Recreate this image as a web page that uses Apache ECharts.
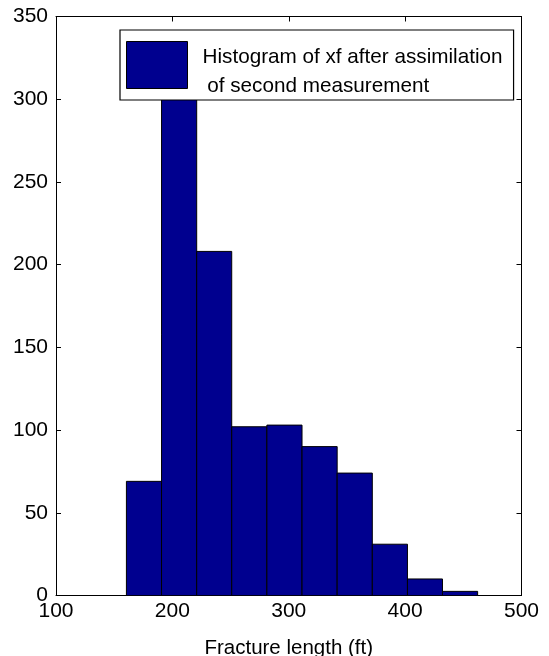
<!DOCTYPE html>
<html>
<head>
<meta charset="utf-8">
<script src="https://cdn.jsdelivr.net/npm/echarts@6/dist/echarts.min.js"></script>
<style>
html,body{margin:0;padding:0;background:#fff;}
#chart{width:549px;height:656px;}
</style>
</head>
<body>
<div id="chart"></div>
<script>
// Histogram bin edges (ft) and counts
const binStarts = [160.5, 190.7, 220.9, 251.0, 281.2, 311.4, 341.6, 371.8, 402.0, 432.1];
const binEnds   = [190.7, 220.9, 251.0, 281.2, 311.4, 341.6, 371.8, 402.0, 432.1, 462.3];
const counts    = [69, 315, 208, 102, 103, 90, 74, 31, 10, 2.5];
const xTicks = [100, 200, 300, 400, 500];
const yTicks = [0, 50, 100, 150, 200, 250, 300, 350];
const seriesName = 'Histogram of xf after assimilation\n of second measurement';
const xLabel = 'Fracture length (ft)';

const barColor = '#00008f';
const font = '"Liberation Sans", Arial, sans-serif';

const data = counts.map((c, i) => [binStarts[i], binEnds[i], c]);

const chart = echarts.init(document.getElementById('chart'), null, {renderer: 'canvas'});

const axisCommon = {
  axisLine: {show: true, onZero: false, lineStyle: {color: '#000', width: 1}},
  axisTick: {show: true, inside: true, length: 5, lineStyle: {color: '#000', width: 1}},
  splitLine: {show: false}
};

chart.setOption({
  animation: false,
  backgroundColor: '#fff',
  grid: {left: 56, right: 27.5, top: 16.5, bottom: 60.5, containLabel: false, outerBoundsMode: 'none'},
  xAxis: [
    Object.assign({
      type: 'value', position: 'bottom',
      min: xTicks[0], max: xTicks[xTicks.length - 1], interval: 100,
      name: xLabel, nameLocation: 'middle', nameGap: 42,
      nameTextStyle: {fontFamily: font, fontSize: 20.5, color: '#000'},
      axisLabel: {fontFamily: font, fontSize: 21, color: '#000', margin: 5}
    }, axisCommon),
    Object.assign({
      type: 'value', position: 'top',
      min: xTicks[0], max: xTicks[xTicks.length - 1], interval: 100,
      axisLabel: {show: false}
    }, axisCommon)
  ],
  yAxis: [
    Object.assign({
      type: 'value', position: 'left',
      min: yTicks[0], max: yTicks[yTicks.length - 1], interval: 50,
      axisLabel: {fontFamily: font, fontSize: 21, color: '#000', margin: 8}
    }, axisCommon),
    Object.assign({
      type: 'value', position: 'right',
      min: yTicks[0], max: yTicks[yTicks.length - 1], interval: 50,
      axisLabel: {show: false}
    }, axisCommon)
  ],
  legend: {
    show: true,
    left: 120, top: 30,
    orient: 'vertical',
    backgroundColor: '#fff',
    borderColor: '#000', borderWidth: 1.2, borderRadius: 0,
    padding: [3, 11, 3, 6],
    itemWidth: 61, itemHeight: 47,
    selectedMode: false,
    formatter: function (name) {
      const lines = name.split('\n');
      return '{s| }{t|' + lines[0] + '}\n{t|' + lines[1] + '}';
    },
    textStyle: {
      fontFamily: font, fontSize: 20.7, color: '#000', lineHeight: 29, padding: [0, 0, 0, 9],
      rich: {
        s: {fontFamily: font, fontSize: 20.7, lineHeight: 35, height: 35, width: 1},
        t: {fontFamily: font, fontSize: 20.7, color: '#000', lineHeight: 29, verticalAlign: 'bottom'}
      }
    },
    data: [{name: seriesName, icon: 'rect', itemStyle: {color: barColor, borderColor: '#000', borderWidth: 1}}],
    z: 10
  },
  series: [{
    type: 'custom',
    name: seriesName,
    xAxisIndex: 0, yAxisIndex: 0,
    itemStyle: {color: barColor},
    clip: true,
    encode: {x: [0, 1], y: 2},
    data: data,
    renderItem: function (params, api) {
      const x0 = api.value(0), x1 = api.value(1), c = api.value(2);
      const pTop = api.coord([x0, c]);
      const pBot = api.coord([x1, 0]);
      return {
        type: 'rect',
        shape: {x: pTop[0], y: pTop[1], width: pBot[0] - pTop[0], height: pBot[1] - pTop[1]},
        style: {fill: barColor, stroke: '#000', lineWidth: 1}
      };
    }
  }]
});
</script>
</body>
</html>
